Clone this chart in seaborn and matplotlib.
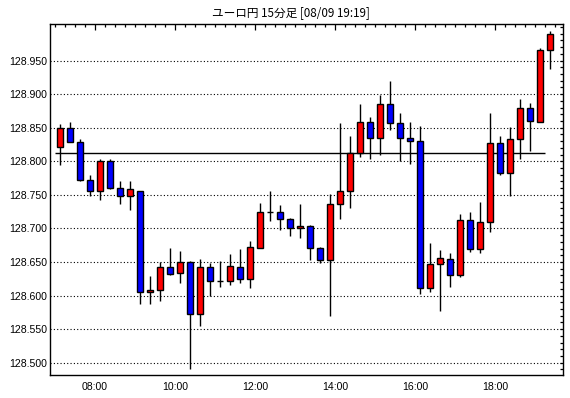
import numpy as np
import pandas as pd
import matplotlib
matplotlib.use("Agg")
import matplotlib.pyplot as plt
from matplotlib.ticker import FixedLocator, MultipleLocator, FormatStrFormatter
import seaborn as sns

# ---- data (15-minute candles, 07:00 .. 19:15) ----
start_time = "07:00"
opens = [128.822, 128.849, 128.828, 128.772, 128.755, 128.800, 128.760, 128.748, 128.755, 128.606,
         128.609, 128.642, 128.633, 128.650, 128.572, 128.642, 128.622, 128.622, 128.642, 128.624,
         128.671, 128.724, 128.724, 128.714, 128.700, 128.704, 128.671, 128.653, 128.737, 128.755,
         128.813, 128.858, 128.834, 128.885, 128.857, 128.834, 128.830, 128.612, 128.647, 128.654,
         128.630, 128.712, 128.669, 128.709, 128.827, 128.782, 128.833, 128.880, 128.858, 128.965]
highs = [128.856, 128.858, 128.833, 128.780, 128.803, 128.803, 128.771, 128.771, 128.756, 128.629,
         128.650, 128.671, 128.666, 128.651, 128.654, 128.648, 128.651, 128.662, 128.670, 128.681,
         128.738, 128.756, 128.735, 128.716, 128.736, 128.705, 128.672, 128.751, 128.857, 128.837,
         128.885, 128.866, 128.899, 128.920, 128.872, 128.858, 128.852, 128.679, 128.668, 128.663,
         128.721, 128.724, 128.739, 128.872, 128.838, 128.851, 128.893, 128.887, 128.968, 128.994]
lows = [128.794, 128.828, 128.770, 128.749, 128.743, 128.758, 128.737, 128.727, 128.587, 128.587,
        128.592, 128.630, 128.618, 128.491, 128.554, 128.600, 128.613, 128.616, 128.618, 128.612,
        128.671, 128.711, 128.697, 128.688, 128.686, 128.653, 128.649, 128.569, 128.714, 128.731,
        128.807, 128.803, 128.810, 128.847, 128.800, 128.796, 128.603, 128.606, 128.577, 128.613,
        128.627, 128.665, 128.664, 128.695, 128.779, 128.749, 128.803, 128.816, 128.858, 128.938]
closes = [128.849, 128.828, 128.772, 128.755, 128.800, 128.760, 128.748, 128.758, 128.606, 128.609,
          128.642, 128.632, 128.650, 128.572, 128.642, 128.622, 128.622, 128.644, 128.624, 128.672,
          128.724, 128.724, 128.714, 128.700, 128.703, 128.671, 128.653, 128.737, 128.756, 128.813,
          128.858, 128.834, 128.885, 128.857, 128.834, 128.830, 128.612, 128.647, 128.656, 128.630,
          128.712, 128.669, 128.709, 128.827, 128.782, 128.833, 128.880, 128.860, 128.965, 128.989]
ref_level = 128.812
y_tick_values = [128.500, 128.550, 128.600, 128.650, 128.700, 128.750, 128.800, 128.850, 128.900, 128.950]
x_tick_labels = ["08:00", "10:00", "12:00", "14:00", "16:00", "18:00"]
title = "ユーロ円 15分足 [08/09 19:19]"

df = pd.DataFrame({"open": opens, "high": highs, "low": lows, "close": closes})
df["time"] = pd.date_range(f"2000-01-01 {start_time}", periods=len(df), freq="15min").strftime("%H:%M")
df["pos"] = np.arange(len(df))
df["bottom"] = df[["open", "close"]].min(axis=1)
df["height"] = (df["close"] - df["open"]).abs()
df["color"] = np.where(df["close"] > df["open"], "#ff0000",
                       np.where(df["close"] < df["open"], "#0000ff", "black"))

sns.set_style("white")
plt.rcParams["font.family"] = ["Liberation Sans", "DejaVu Sans"]

fig = plt.figure(figsize=(5.7, 3.98), dpi=100)
ax = fig.add_axes([49.5 / 570, 1 - 375 / 398, (563 - 49.5) / 570, (375 - 24.3) / 398])

ax.set_ylim(128.4817, 129.004)
ax.set_xlim(-1.05, 50.3)
ax.yaxis.set_major_locator(FixedLocator(y_tick_values))
ax.yaxis.set_minor_locator(MultipleLocator(0.01))
ax.yaxis.set_major_formatter(FormatStrFormatter("%.3f"))
ax.grid(axis="y", which="major", color="black", linestyle=(0, (1, 2)), linewidth=0.8)
ax.grid(axis="x", visible=False)
ax.set_axisbelow(True)

# reference line
ax.hlines(ref_level, -0.5, len(df) - 1.5, color="black", linewidth=1.0, zorder=2)

# wicks
ax.vlines(df["pos"], df["low"], df["high"], color="black", linewidth=1.0, zorder=3)
# bodies
ax.bar(df["pos"], df["height"], bottom=df["bottom"], width=0.62,
       color=df["color"], edgecolor="black", linewidth=1.0, zorder=4)

# x ticks
major_pos = [p - 0.5 for p, t in zip(df["pos"], df["time"]) if t in x_tick_labels]
ax.xaxis.set_major_locator(FixedLocator(major_pos))
ax.set_xticklabels(x_tick_labels)
ax.xaxis.set_minor_locator(FixedLocator(list(np.arange(-0.5, len(df) + 0.5, 1.0))))

ax.tick_params(axis="both", which="both", direction="in", top=True, right=True,
               color="black", width=0.9, labelsize=7.6, labelcolor="black")
ax.tick_params(axis="x", which="major", length=4.2, pad=5)
ax.tick_params(axis="x", which="minor", length=2.2)
ax.tick_params(axis="y", which="major", length=2.2, pad=1.5)
ax.tick_params(axis="y", which="minor", length=2.0)
ax.tick_params(labeltop=False, labelright=False)

for s in ax.spines.values():
    s.set_visible(True)
    s.set_color("black")
    s.set_linewidth(1.0)

ax.set_xlabel("")
ax.set_ylabel("")

fig.text(291 / 570, 1 - 13 / 398, title, ha="center", va="center", fontsize=8.4,
         family=["Noto Sans CJK JP", "DejaVu Sans"], color="black")

fig.savefig("out.png", dpi=100, facecolor="white")
